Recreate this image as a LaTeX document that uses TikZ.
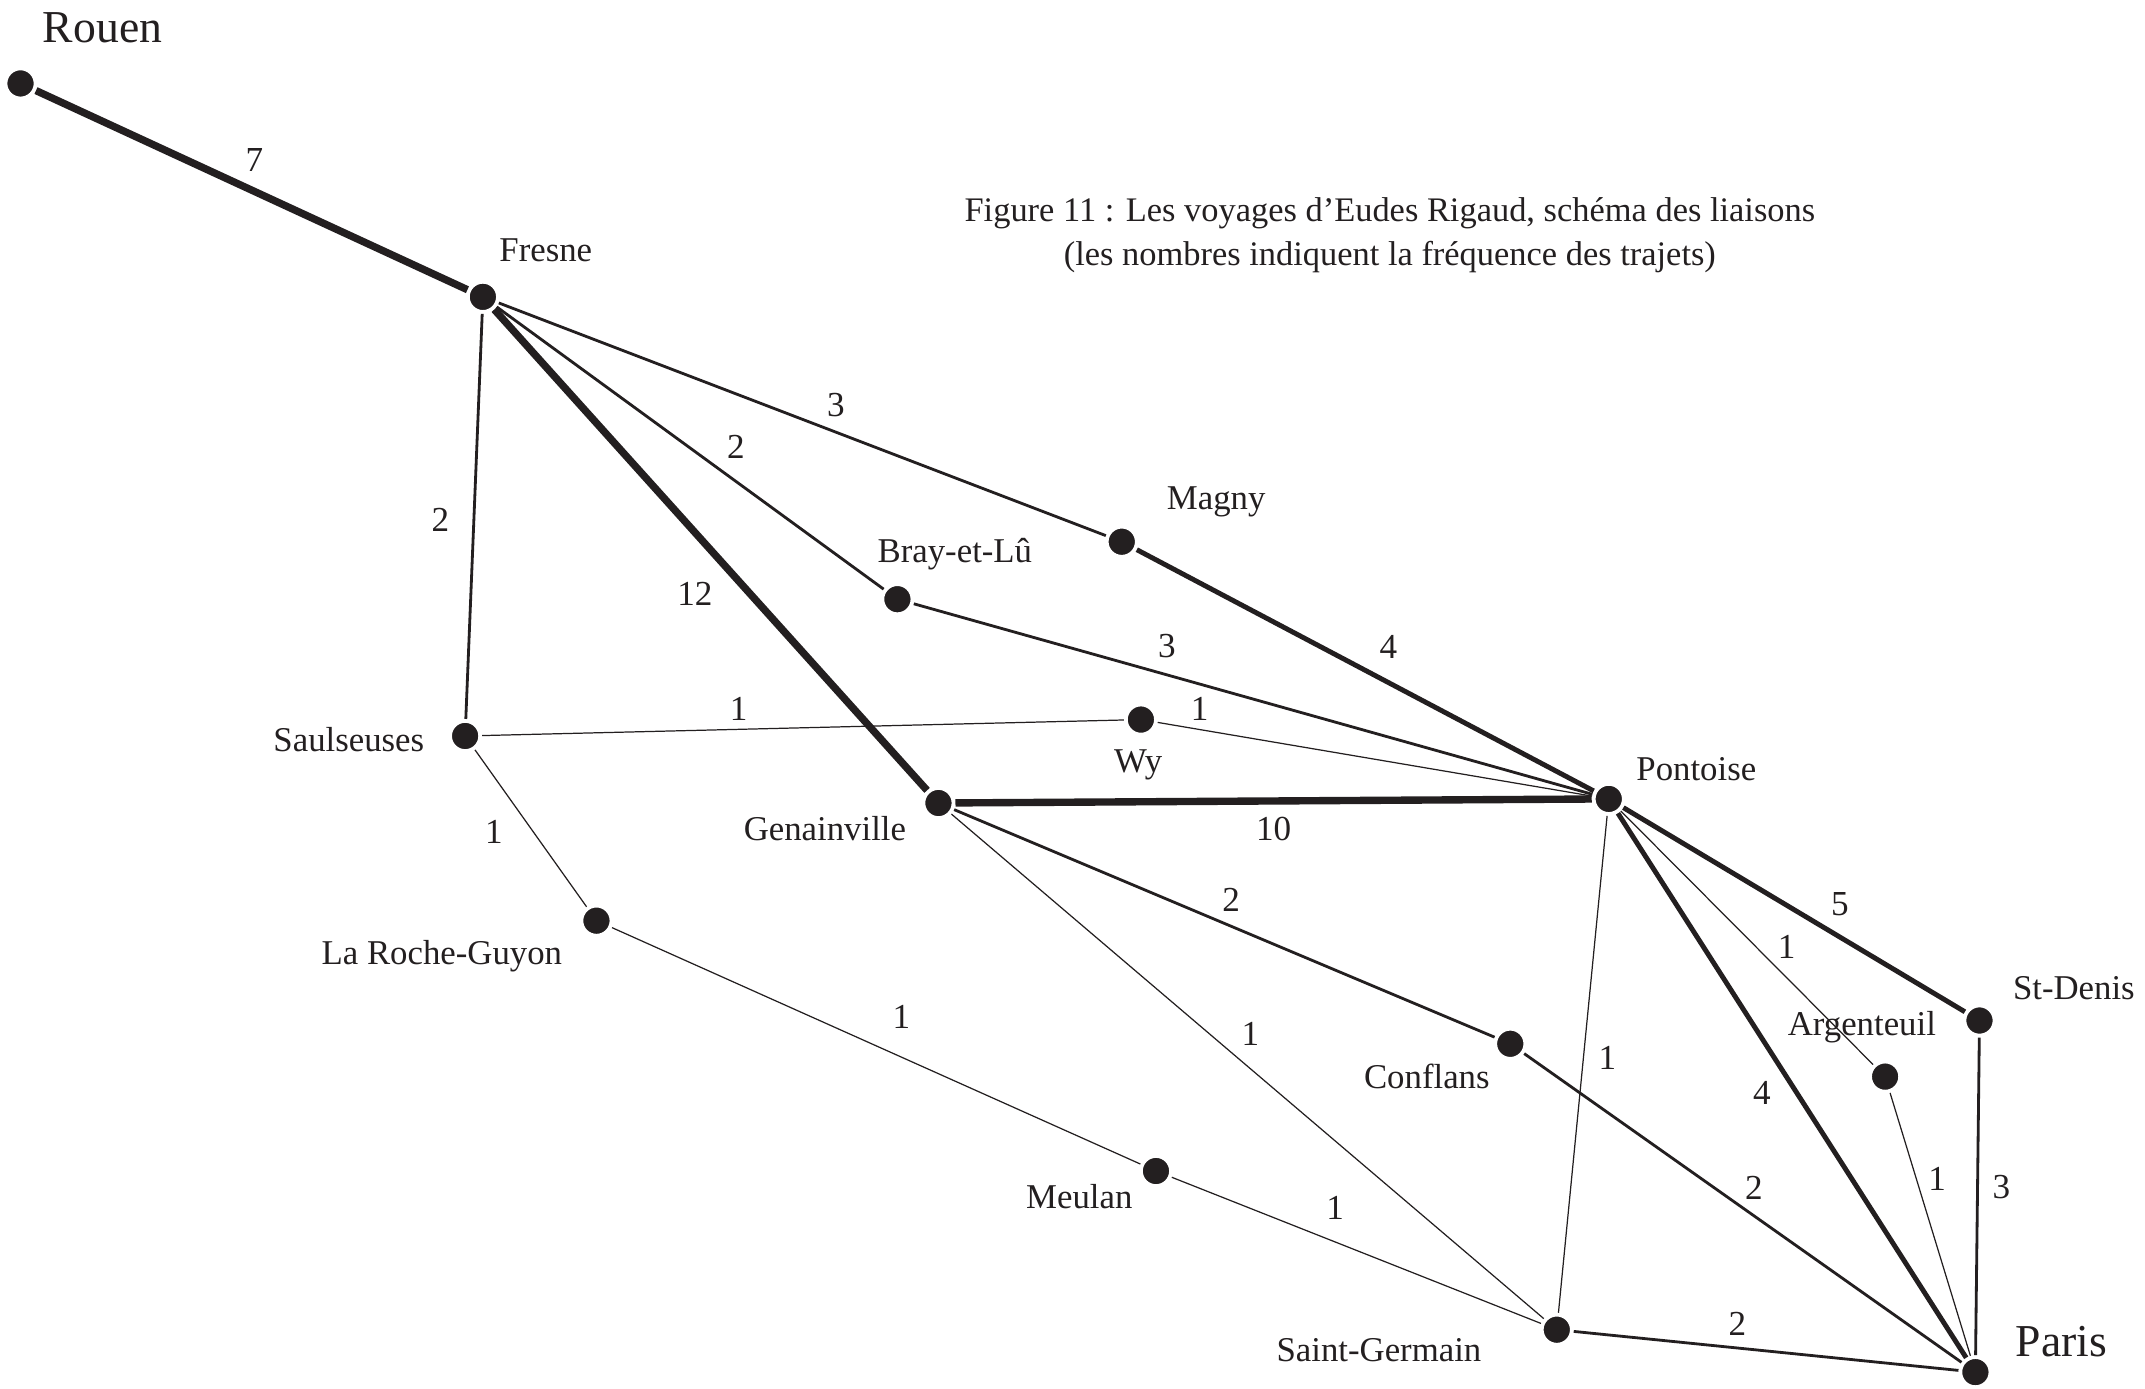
\documentclass[tikz,border=0pt]{standalone}
\usepackage{fontspec}
\setmainfont{Liberation Serif}
\definecolor{Ink}{RGB}{35, 31, 32}
\tikzset{
  % Town dots (white ring keeps the links off the dot)
  town/.style={
    circle, fill=Ink, draw=white, line width=1.1pt,
    inner sep=0pt, minimum size=8.6pt
  },
  % Town names
  place/.style={
    text=Ink, inner sep=0pt,
    font=\fontsize{9.9}{11}\selectfont
  },
  % Rouen and Paris
  bigplace/.style={
    text=Ink, inner sep=0pt,
    font=\fontsize{13}{14}\selectfont
  },
  % Trip counts on the links
  count/.style={
    text=Ink, inner sep=0pt,
    font=\fontsize{10}{11}\selectfont
  },
  % Title
  caption/.style={
    text=Ink, align=center, inner sep=0pt,
    font=\fontsize{9.8}{12.5}\selectfont
  },
  % Links, by frequency
  link/.style={draw=Ink, line width=#1},
  heavy/.style={link=2.1pt},
  strong/.style={link=1.4pt},
  medium/.style={link=0.8pt},
  faint/.style={link=0.35pt}
}

\begin{document}
\begin{tikzpicture}[x=0.01368cm, y=-0.01368cm]

  \useasboundingbox (0,0) rectangle (1568,1015);

  % ── Towns ─────────────────────────────────────────────────────────────────
  \node[town] (rouen)      at (15,61)    {};
  \node[town] (fresne)     at (353,217)  {};
  \node[town] (saul)       at (340,538)  {};
  \node[town] (roche)      at (436,673)  {};
  \node[town] (bray)       at (656,438)  {};
  \node[town] (magny)      at (820,396)  {};
  \node[town] (wy)         at (834,526)  {};
  \node[town] (genain)     at (686,587)  {};
  \node[town] (pontoise)   at (1176,584) {};
  \node[town] (conflans)   at (1104,763) {};
  \node[town] (meulan)     at (845,856)  {};
  \node[town] (stgermain)  at (1138,972) {};
  \node[town] (argenteuil) at (1378,787) {};
  \node[town] (stdenis)    at (1447,746) {};
  \node[town] (paris)      at (1444,1003){};

  % ── Town names ────────────────────────────────────────────────────────────
  \node[bigplace] (rouen-name)      at (75,20)    {Rouen};
  \node[place]    (fresne-name)     at (399,183)  {Fresne};
  \node[place]    (saul-name)       at (255,541)  {Saulseuses};
  \node[place]    (roche-name)      at (323,699)  {La Roche-Guyon};
  \node[place]    (bray-name)       at (698,405)  {Bray-et-Lû};
  \node[place]    (magny-name)      at (889,367)  {Magny};
  \node[place]    (wy-name)         at (832,559)  {Wy};
  \node[place]    (genain-name)     at (603,606)  {Genainville};
  \node[place]    (pontoise-name)   at (1240,562) {Pontoise};
  \node[place]    (conflans-name)   at (1043,787) {Conflans};
  \node[place]    (meulan-name)     at (789,875)  {Meulan};
  \node[place]    (stgermain-name)  at (1008,987) {Saint-Germain};
  \node[place]    (argenteuil-name) at (1361,751) {Argenteuil};
  \node[place]    (stdenis-name)    at (1516,722) {St-Denis};
  \node[bigplace] (paris-name)      at (1507,981) {Paris};

  % ── Title ─────────────────────────────────────────────────────────────────
  \node[caption] (title) at (1016,172)
    {Figure 11 : Les voyages d’Eudes Rigaud, schéma des liaisons\\
     (les nombres indiquent la fréquence des trajets)};

  % ── Links ─────────────────────────────────────────────────────────────────
  \draw[heavy]  (rouen) -- (fresne);
  \draw[heavy]  (fresne) -- (genain);
  \draw[heavy]  (genain) -- (pontoise);
  \draw[strong] (magny) -- (pontoise);
  \draw[strong] (pontoise) -- (stdenis);
  \draw[strong] (pontoise) -- (paris);
  \draw[medium] (fresne) -- (saul);
  \draw[medium] (fresne) -- (bray);
  \draw[medium] (fresne) -- (magny);
  \draw[medium] (bray) -- (pontoise);
  \draw[medium] (genain) -- (conflans);
  \draw[medium] (conflans) -- (paris);
  \draw[medium] (stgermain) -- (paris);
  \draw[medium] (stdenis) -- (paris);
  \draw[faint]  (saul) -- (wy);
  \draw[faint]  (wy) -- (pontoise);
  \draw[faint]  (saul) -- (roche);
  \draw[faint]  (roche) -- (meulan);
  \draw[faint]  (meulan) -- (stgermain);
  \draw[faint]  (genain) -- (stgermain);
  \draw[faint]  (pontoise) -- (stgermain);
  \draw[faint]  (pontoise) -- (argenteuil);
  \draw[faint]  (argenteuil) -- (paris);

  % ── Trip counts ───────────────────────────────────────────────────────────
  \node[count] (c-rouen-fresne)     at (186,117)  {7};
  \node[count] (c-fresne-saul)      at (322,380)  {2};
  \node[count] (c-fresne-genain)    at (508,434)  {12};
  \node[count] (c-fresne-bray)      at (538,327)  {2};
  \node[count] (c-fresne-magny)     at (611,296)  {3};
  \node[count] (c-magny-pontoise)   at (1015,473) {4};
  \node[count] (c-bray-pontoise)    at (853,472)  {3};
  \node[count] (c-saul-wy)          at (540,518)  {1};
  \node[count] (c-wy-pontoise)      at (877,518)  {1};
  \node[count] (c-genain-pontoise)  at (931,606)  {10};
  \node[count] (c-saul-roche)       at (361,608)  {1};
  \node[count] (c-roche-meulan)     at (659,743)  {1};
  \node[count] (c-genain-conflans)  at (900,658)  {2};
  \node[count] (c-genain-stgermain) at (914,756)  {1};
  \node[count] (c-pont-stgermain)   at (1175,773) {1};
  \node[count] (c-pont-argenteuil)  at (1306,692) {1};
  \node[count] (c-pont-stdenis)     at (1345,661) {5};
  \node[count] (c-pont-paris)       at (1288,799) {4};
  \node[count] (c-conflans-paris)   at (1282,868) {2};
  \node[count] (c-meulan-stgermain) at (976,883)  {1};
  \node[count] (c-stgermain-paris)  at (1270,968) {2};
  \node[count] (c-argenteuil-paris) at (1416,862) {1};
  \node[count] (c-stdenis-paris)    at (1463,868) {3};

\end{tikzpicture}
\end{document}
